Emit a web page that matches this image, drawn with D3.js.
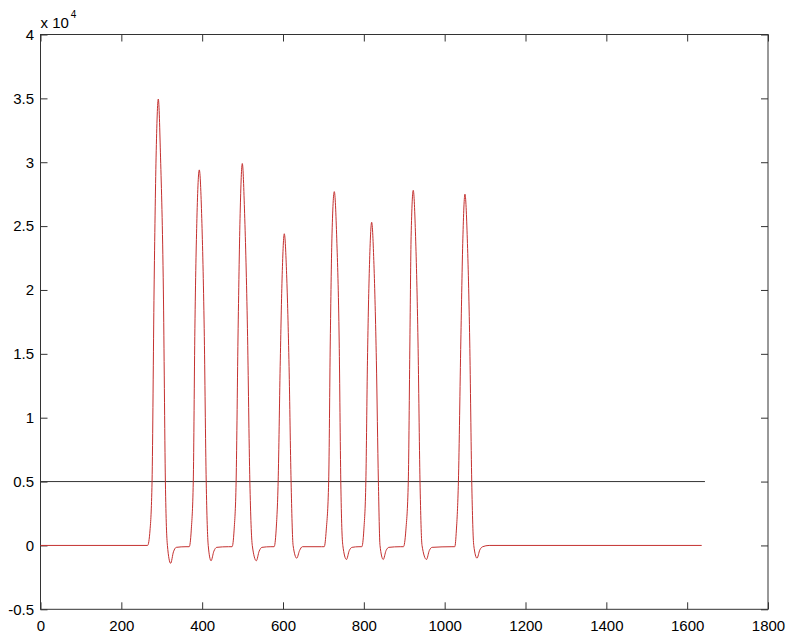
<!DOCTYPE html>
<html>
<head>
<meta charset="utf-8">
<script src="https://cdn.jsdelivr.net/npm/d3@7"></script>
<style>
  body { margin: 0; background: #fff; }
  text { font-family: "Liberation Sans", Arial, Helvetica, sans-serif; }
</style>
</head>
<body>
<div class="chart"></div>
<script>
// signal values in units of 10^4
const signalX = [
  0, 265, 271, 276, 281, 286, 291.5, 297, 304, 309, 314, 322, 329, 336, 360,
  368, 373, 378, 382, 387, 392.9, 399, 405, 410, 415, 422, 429, 436, 465,
  474, 479, 484, 489, 494, 499.3, 505, 512, 518, 524, 534, 541, 548, 570,
  578, 583, 588, 593, 598, 603.2, 609, 615, 620, 625, 634, 641, 648, 695,
  702, 707, 713, 717, 721, 726.9, 733, 739, 743, 748, 757, 764, 771, 788,
  795, 800, 805, 809, 814, 819.4, 825, 831, 836, 840, 848, 855, 862, 890,
  898, 904, 910, 914, 917, 922.3, 928, 934, 939, 944, 955, 962, 969, 1018,
  1025, 1029, 1034, 1040, 1045, 1050.2, 1056, 1062, 1067, 1072, 1080, 1087, 1094, 1110, 1636
];
const signalY = [
  0, 0, 0.12, 0.5, 2.0, 3.04, 3.495, 3.04, 2.0, 0.5, 0, -0.14, -0.05, -0.015, -0.01,
  -0.01, 0.12, 0.5, 1.7, 2.56, 2.94, 2.56, 1.7, 0.5, 0, -0.12, -0.045, -0.015, -0.01,
  -0.01, 0.12, 0.5, 1.7, 2.6, 2.99, 2.6, 1.7, 0.5, 0, -0.12, -0.045, -0.015, -0.01,
  -0.01, 0.12, 0.5, 1.4, 2.12, 2.44, 2.12, 1.4, 0.5, 0, -0.1, -0.04, -0.01, -0.01,
  -0.01, 0.12, 0.5, 1.6, 2.4, 2.77, 2.4, 1.6, 0.5, 0, -0.11, -0.04, -0.015, -0.01,
  -0.01, 0.12, 0.5, 1.45, 2.2, 2.53, 2.2, 1.45, 0.5, 0, -0.11, -0.04, -0.015, -0.01,
  -0.01, 0.12, 0.5, 1.6, 2.42, 2.78, 2.42, 1.6, 0.5, 0, -0.11, -0.04, -0.015, -0.01,
  -0.01, 0.12, 0.5, 1.6, 2.4, 2.75, 2.4, 1.6, 0.5, 0, -0.1, -0.035, -0.01, 0, 0
];
// threshold line
const thresholdX = [0, 1644];
const thresholdY = [0.5, 0.5];

const xTicks = [0, 200, 400, 600, 800, 1000, 1200, 1400, 1600, 1800];
const yTicks = [-0.5, 0, 0.5, 1, 1.5, 2, 2.5, 3, 3.5, 4];

function drawChart() {
  const width = 788;
  const height = 635;
  const margins = {top: 34.5, bottom: 25.7, left: 40.5, right: 20};

  const svg = d3.select(".chart").append("svg")
    .attr("width", width)
    .attr("height", height);

  const xScale = d3.scaleLinear()
    .domain([0, 1800])
    .range([margins.left, width - margins.right]);

  const yScale = d3.scaleLinear()
    .domain([-0.5, 4])
    .range([height - margins.bottom, margins.top]);

  const fmt = d => d.toString();

  // bottom + left with labels, top + right ticks only (ticks point inward)
  const xAxis = d3.axisBottom(xScale).tickValues(xTicks).tickFormat(fmt)
    .tickSizeInner(-7).tickSizeOuter(0).tickPadding(11);
  const yAxis = d3.axisLeft(yScale).tickValues(yTicks).tickFormat(fmt)
    .tickSizeInner(-7).tickSizeOuter(0).tickPadding(6.5);
  const xTop = d3.axisTop(xScale).tickValues(xTicks).tickFormat("")
    .tickSizeInner(-7).tickSizeOuter(0);
  const yRight = d3.axisRight(yScale).tickValues(yTicks).tickFormat("")
    .tickSizeInner(-7).tickSizeOuter(0);

  const axes = [
    [xAxis, `translate(0, ${yScale(-0.5)})`],
    [yAxis, `translate(${xScale(0)}, 0)`],
    [xTop, `translate(0, ${yScale(4)})`],
    [yRight, `translate(${xScale(1800)}, 0)`]
  ];
  for (const [ax, tr] of axes) {
    const g = svg.append("g").attr("transform", tr).call(ax);
    g.select(".domain").remove();
    g.selectAll("line").attr("stroke", "#333");
    g.selectAll("text").attr("fill", "#000").style("font-size", "15px");
  }

  // axes box
  svg.append("rect")
    .attr("x", xScale(0))
    .attr("y", yScale(4))
    .attr("width", xScale(1800) - xScale(0))
    .attr("height", yScale(-0.5) - yScale(4))
    .attr("fill", "none")
    .attr("stroke", "#333")
    .attr("stroke-width", 1);

  // exponent label
  const expo = svg.append("text")
    .attr("x", xScale(0))
    .attr("y", 27.5)
    .style("font-size", "15px")
    .text("x 10");
  expo.append("tspan")
    .attr("dy", -10)
    .attr("dx", 2)
    .style("font-size", "10px")
    .text("4");

  const line = d3.line()
    .x(d => xScale(d[0]))
    .y(d => yScale(d[1]))
    .curve(d3.curveMonotoneX);

  svg.append("path")
    .attr("fill", "none")
    .attr("stroke", "#333")
    .attr("stroke-width", 1)
    .attr("d", line(thresholdX.map((x, i) => [x, thresholdY[i]])));

  svg.append("path")
    .attr("fill", "none")
    .attr("stroke", "#c4302f")
    .attr("stroke-width", 1)
    .attr("d", line(signalX.map((x, i) => [x, signalY[i]])));
}

drawChart();
</script>
</body>
</html>
